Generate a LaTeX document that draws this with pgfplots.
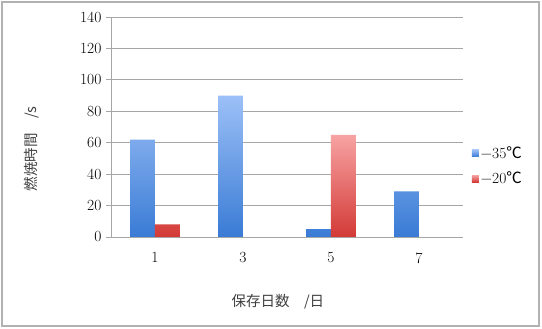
\documentclass[border=0pt]{standalone}
\usepackage{pgfplots}
\pgfplotsset{compat=1.18}
\usepackage{fontspec}
\newfontfamily\cjk{Noto Sans CJK JP}
\definecolor{btop}{HTML}{9CC0F7}
\definecolor{bbot}{HTML}{3A7BD5}
\definecolor{rtop}{HTML}{F7A3A3}
\definecolor{rbot}{HTML}{D33A36}
\definecolor{gridc}{HTML}{A6A6A6}
\begin{document}
\begin{tikzpicture}[x=1pt,y=1pt]
\useasboundingbox (0,0) rectangle (542,329);
\draw[gray!60, line width=1.2pt] (2,3) rectangle (539,327);
\begin{axis}[
  at={(111pt,92pt)}, anchor=south west,
  scale only axis, width=352pt, height=220pt,
  xmin=-0.5, xmax=3.5, ymin=0, ymax=140,
  ytick={0,20,...,140},
  xtick={0,1,2,3}, xticklabels={1,3,5,7},
  /pgf/number format/assume math mode=true,
  extra x ticks={-0.5,0.5,1.5,2.5,3.5}, extra x tick labels={},
  extra x tick style={major tick length=5pt, tick style={gridc, line width=0.8pt}, xticklabel=\empty},
  major x tick style={draw=none},
  ytick style={gridc, line width=0.8pt},
  major tick length=5pt,
  tick align=outside,
  axis x line*=bottom, axis y line*=left,
  axis line style={gridc, line width=0.8pt, -},
  ymajorgrids, grid style={gridc, line width=0.8pt},
  tick label style={font=\fontsize{15.5}{18}\selectfont},
  xticklabel style={yshift=-7pt},
  yticklabel style={xshift=-1pt},
  ylabel={\cjk 燃焼時間　/s},
  every axis y label/.style={font=\fontsize{14.5}{17}\selectfont\color{darkgray}, at={(axis description cs:-0.224,0.4)}, anchor=center, rotate=90},
  xlabel={\cjk 保存日数　/日},
  every axis x label/.style={font=\fontsize{14.5}{17}\selectfont\color{darkgray}, at={(axis description cs:0.474,-0.295)}, anchor=center},
  legend style={at={(axis description cs:1.025,0.323)}, anchor=west, draw=none, fill=none, font=\fontsize{15.5}{18}\selectfont, row sep=8pt, inner sep=0pt},
  legend cell align=left,
  legend image code/.code={\path[#1, draw=none] (0pt,-3.5pt) rectangle (7pt,3.5pt);},
  clip=false,
]
\addplot[ybar, bar width=0.284, bar shift=-0.142, draw=none, top color=btop, bottom color=bbot]
  coordinates {(0,62) (1,90) (2,5) (3,29)};
\addlegendentry{−35{\cjk ℃}}
\addplot[ybar, bar width=0.284, bar shift=0.142, draw=none, top color=rtop, bottom color=rbot]
  coordinates {(0,8) (2,65)};
\addlegendentry{−20{\cjk ℃}}
\end{axis}
\end{tikzpicture}
\end{document}
